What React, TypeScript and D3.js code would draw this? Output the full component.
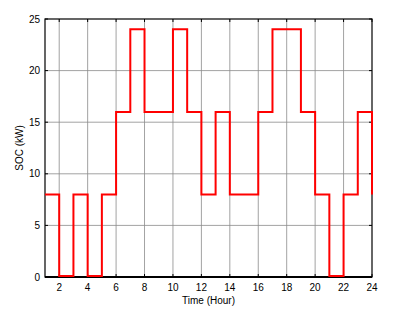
import React, { useEffect, useRef } from 'react'
import * as d3 from 'd3'

// SOC at the start of each hour (step held until the next hour)
const hours = [1, 2, 3, 4, 5, 6, 7, 8, 9, 10, 11, 12, 13, 14, 15, 16, 17, 18, 19, 20, 21, 22, 23, 24]
const soc = [8, 0, 8, 0, 8, 16, 24, 16, 16, 24, 16, 8, 16, 8, 8, 16, 24, 24, 16, 8, 0, 8, 16, 8]
const xTicks = [2, 4, 6, 8, 10, 12, 14, 16, 18, 20, 22, 24]
const yTicks = [0, 5, 10, 15, 20, 25]

export default function App() {
  const svgRef = useRef<SVGSVGElement>(null)

  useEffect(() => {
    const svg = d3.select(svgRef.current)
    svg.selectAll('*').remove()

    const width = 399
    const height = 320
    const margin = { top: 19, right: 27, bottom: 43, left: 45 }
    const innerWidth = width - margin.left - margin.right
    const innerHeight = height - margin.top - margin.bottom

    const x = d3.scaleLinear().domain([1, 24]).range([0, innerWidth])
    const y = d3.scaleLinear().domain([0, 25]).range([innerHeight, 0])

    const g = svg.append('g').attr('transform', `translate(${margin.left},${margin.top})`)

    // grid
    g.selectAll('.vgrid')
      .data(xTicks.filter(t => t < 24))
      .enter().append('line')
      .attr('x1', d => x(d)).attr('x2', d => x(d))
      .attr('y1', 0).attr('y2', innerHeight)
      .attr('stroke', '#8a8a8a').attr('stroke-width', 0.8)

    g.selectAll('.hgrid')
      .data(yTicks.filter(t => t > 0 && t < 25))
      .enter().append('line')
      .attr('x1', 0).attr('x2', innerWidth)
      .attr('y1', d => y(d)).attr('y2', d => y(d))
      .attr('stroke', '#8a8a8a').attr('stroke-width', 0.8)

    // inward ticks on all four sides
    const tickLen = 3
    xTicks.forEach(t => {
      g.append('line').attr('x1', x(t)).attr('x2', x(t)).attr('y1', innerHeight).attr('y2', innerHeight - tickLen).attr('stroke', '#000')
      g.append('line').attr('x1', x(t)).attr('x2', x(t)).attr('y1', 0).attr('y2', tickLen).attr('stroke', '#000')
    })
    yTicks.forEach(t => {
      g.append('line').attr('x1', 0).attr('x2', tickLen).attr('y1', y(t)).attr('y2', y(t)).attr('stroke', '#000')
      g.append('line').attr('x1', innerWidth).attr('x2', innerWidth - tickLen).attr('y1', y(t)).attr('y2', y(t)).attr('stroke', '#000')
    })

    // box
    g.append('rect')
      .attr('x', 0).attr('y', 0)
      .attr('width', innerWidth).attr('height', innerHeight)
      .attr('fill', 'none')
      .attr('stroke', '#000')
      .attr('stroke-width', 1.2)
    g.append('line')
      .attr('x1', 0).attr('x2', innerWidth)
      .attr('y1', innerHeight).attr('y2', innerHeight)
      .attr('stroke', '#000').attr('stroke-width', 2)

    // step line (drawn over the box, as in the reference)
    const line = d3.line<number>()
      .x((d, i) => x(hours[i]))
      .y(d => y(d) - (d === 0 ? 1 : 0))
      .curve(d3.curveStepAfter)

    g.append('path')
      .datum(soc)
      .attr('fill', 'none')
      .attr('stroke', '#ff0000')
      .attr('stroke-width', 2)
      .attr('d', line)

    // tick labels
    g.selectAll('.xlab')
      .data(xTicks)
      .enter().append('text')
      .attr('x', d => x(d))
      .attr('y', innerHeight + 14)
      .attr('text-anchor', 'middle')
      .style('font-family', 'Liberation Sans, Arial, sans-serif')
      .style('font-size', '10px')
      .text(d => d)

    g.selectAll('.ylab')
      .data(yTicks)
      .enter().append('text')
      .attr('x', -5)
      .attr('y', d => y(d))
      .attr('dy', '0.35em')
      .attr('text-anchor', 'end')
      .style('font-family', 'Liberation Sans, Arial, sans-serif')
      .style('font-size', '10px')
      .text(d => d)

    // axis titles
    g.append('text')
      .attr('x', innerWidth / 2)
      .attr('y', innerHeight + 27)
      .attr('text-anchor', 'middle')
      .style('font-family', 'Liberation Sans, Arial, sans-serif')
      .style('font-size', '10px')
      .text('Time (Hour)')

    g.append('text')
      .attr('transform', `translate(-22,${innerHeight / 2}) rotate(-90)`)
      .attr('text-anchor', 'middle')
      .style('font-family', 'Liberation Sans, Arial, sans-serif')
      .style('font-size', '10px')
      .text('SOC (kW)')
  }, [])

  return (
    <svg
      ref={svgRef}
      width={399}
      height={320}
      style={{ position: 'absolute', left: 0, top: 0, background: '#fff' }}
    />
  )
}
